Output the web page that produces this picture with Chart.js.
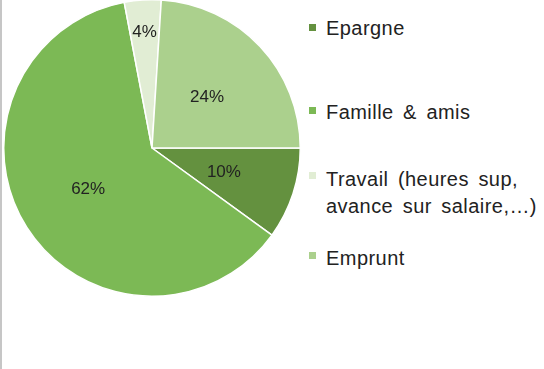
<!DOCTYPE html>
<html>
<head>
<meta charset="utf-8">
<script src="https://cdn.jsdelivr.net/npm/chart.js@4.4.1/dist/chart.umd.min.js"></script>
<style>
  html, body { margin: 0; padding: 0; background: #fff; }
  body { width: 544px; height: 369px; position: relative; overflow: hidden;
         font-family: "Liberation Sans", Arial, sans-serif; }
  #edge { position: absolute; left: 0; top: 0; width: 2px; height: 369px; background: #c6c6c6; }
  #wrap { position: absolute; left: 3px; top: -1px; width: 298px; height: 298px; }
  #legend { position: absolute; left: 0; top: 0; }
  .item { position: absolute; left: 326px; font-size: 20px; line-height: 27px; color: #222;
          white-space: nowrap; word-spacing: 3.5px; letter-spacing: 0.45px; }
  .box { position: absolute; left: -17px; width: 7px; height: 7px; }
</style>
</head>
<body>
<div id="edge"></div>
<div id="wrap"><canvas id="c"></canvas></div>
<div id="legend"></div>
<script>
const categories = ["Epargne", "Famille & amis", "Travail (heures sup,\navance sur salaire,…)", "Emprunt"];
const shares = [10, 62, 4, 24];
const pctLabels = ["10%", "62%", "4%", "24%"];
const colors = ["#64913f", "#7cb955", "#e1edd4", "#abd08d"];

const legendTops = [15, 98.5, 166, 244.5];
const legendBoxOffsets = [9, 8.5, 6, 7.5];

const labelPlugin = {
  id: 'sliceLabels',
  afterDatasetsDraw(chart, args, opts) {
    const ctx = chart.ctx;
    const meta = chart.getDatasetMeta(0);
    ctx.save();
    ctx.font = '17px "Liberation Sans", Arial, sans-serif';
    ctx.fillStyle = '#222';
    ctx.textAlign = 'center';
    ctx.textBaseline = 'middle';
    meta.data.forEach((arc, i) => {
      const p = arc.getProps(['x', 'y', 'startAngle', 'endAngle', 'outerRadius'], true);
      const mid = (p.startAngle + p.endAngle) / 2;
      const f = (opts.radii && opts.radii[i] != null) ? opts.radii[i] : opts.radius;
      const x = p.x + Math.cos(mid) * p.outerRadius * f;
      const y = p.y + Math.sin(mid) * p.outerRadius * f;
      ctx.fillText(pctLabels[i], x, y + 1);
    });
    ctx.restore();
  }
};

const chart = new Chart(document.getElementById('c'), {
  type: 'pie',
  data: {
    labels: categories,
    datasets: [{
      data: shares,
      backgroundColor: colors,
      borderColor: '#ffffff',
      borderWidth: 1.5
    }]
  },
  options: {
    responsive: true,
    maintainAspectRatio: false,
    animation: false,
    rotation: 90,
    layout: { padding: 0 },
    plugins: {
      legend: { display: false },
      tooltip: { enabled: false },
      sliceLabels: { radius: 0.51, radii: { 2: 0.79 } }
    }
  },
  plugins: [labelPlugin]
});

const legend = document.getElementById('legend');
categories.forEach((name, i) => {
  const item = document.createElement('div');
  item.className = 'item';
  item.style.top = legendTops[i] + 'px';
  const box = document.createElement('span');
  box.className = 'box';
  box.style.background = colors[i];
  box.style.top = legendBoxOffsets[i] + 'px';
  item.appendChild(box);
  name.split('\n').forEach((line, k) => {
    if (k > 0) item.appendChild(document.createElement('br'));
    item.appendChild(document.createTextNode(line));
  });
  legend.appendChild(item);
});
</script>
</body>
</html>
